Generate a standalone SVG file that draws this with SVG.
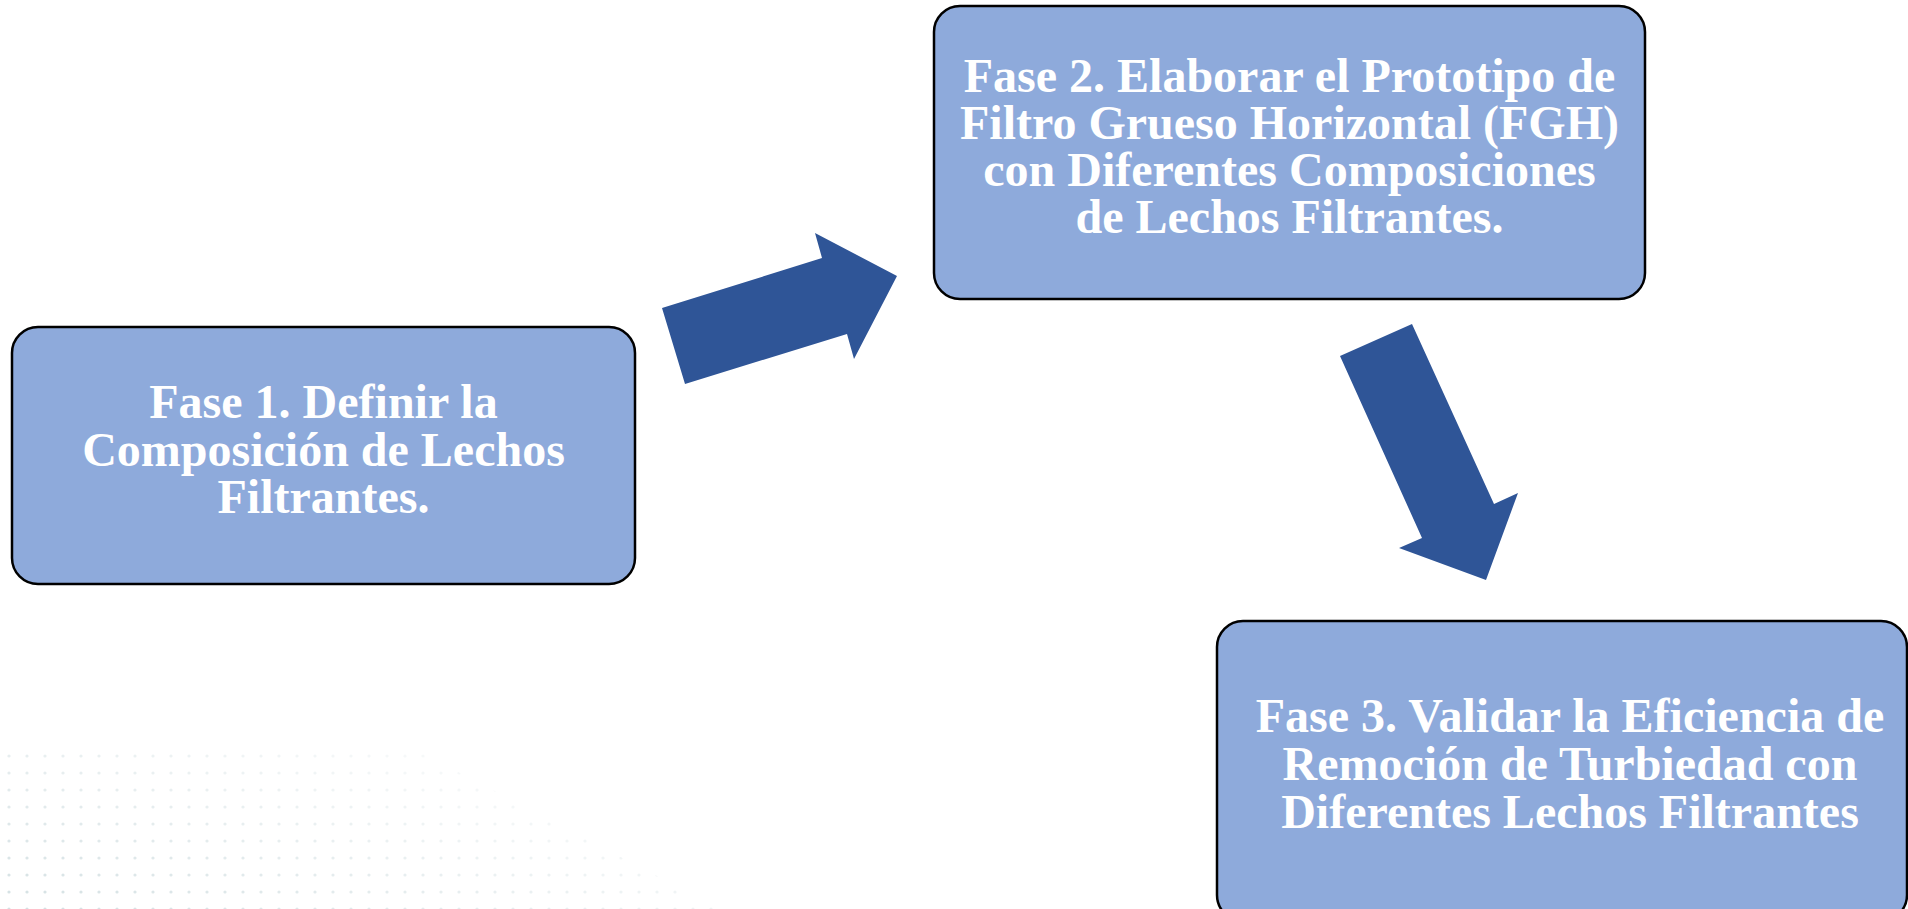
<svg xmlns="http://www.w3.org/2000/svg" width="1908" height="909" viewBox="0 0 1908 909">
  <style>
    .box { fill: #8EAADB; stroke: #000000; stroke-width: 2.5; }
    .lbl { font-family: "Liberation Serif", "Times New Roman", serif; font-weight: bold; font-size: 48px; fill: #FFFFFF; text-anchor: middle; }
    .arrow { fill: #2F5597; stroke: none; }
  </style>
  <defs>
    <pattern id="dots" x="0" y="0" width="18" height="17" patternUnits="userSpaceOnUse">
      <circle cx="9" cy="8" r="1.6" fill="#cfdde0"/>
    </pattern>
    <linearGradient id="fade" x1="0" y1="1" x2="1" y2="0.3">
      <stop offset="0" stop-color="#fff" stop-opacity="0.9"/>
      <stop offset="1" stop-color="#fff" stop-opacity="0"/>
    </linearGradient>
    <mask id="fadeMask" maskUnits="userSpaceOnUse" x="0" y="740" width="760" height="169">
      <rect x="0" y="740" width="760" height="169" fill="url(#fade)"/>
    </mask>
  </defs>
  <rect x="0" y="0" width="1908" height="909" fill="#FFFFFF"/>
  <g id="background-dots" mask="url(#fadeMask)">
    <polygon points="0,752 420,752 720,909 0,909" fill="url(#dots)"/>
  </g>
  <g id="connectors">
    <polygon class="arrow" points="662,308 822,258 815,233 897,276 854,359 847,334 685,384"/>
    <polygon class="arrow" points="1340,356 1412,324 1494,504 1518,493 1486,580 1399,548 1422,538"/>
  </g>
  <g id="node-fase1">
    <rect class="box" x="12" y="327" width="623" height="257" rx="26" ry="26"/>
    <text class="lbl" x="323.5" y="418">Fase 1. Definir la</text>
    <text class="lbl" x="323.5" y="466">Composición de Lechos</text>
    <text class="lbl" x="323.5" y="513">Filtrantes.</text>
  </g>
  <g id="node-fase2">
    <rect class="box" x="934" y="6" width="711" height="293" rx="26" ry="26"/>
    <text class="lbl" x="1289.5" y="92">Fase 2. Elaborar el Prototipo de</text>
    <text class="lbl" x="1289.5" y="139">Filtro Grueso Horizontal (FGH)</text>
    <text class="lbl" x="1289.5" y="186">con Diferentes Composiciones</text>
    <text class="lbl" x="1289.5" y="233">de Lechos Filtrantes.</text>
  </g>
  <g id="node-fase3">
    <rect class="box" x="1217" y="621" width="690" height="300" rx="26" ry="26"/>
    <text class="lbl" x="1570" y="732">Fase 3. Validar la Eficiencia de</text>
    <text class="lbl" x="1570" y="780">Remoción de Turbiedad con</text>
    <text class="lbl" x="1570" y="828">Diferentes Lechos Filtrantes</text>
  </g>
</svg>
